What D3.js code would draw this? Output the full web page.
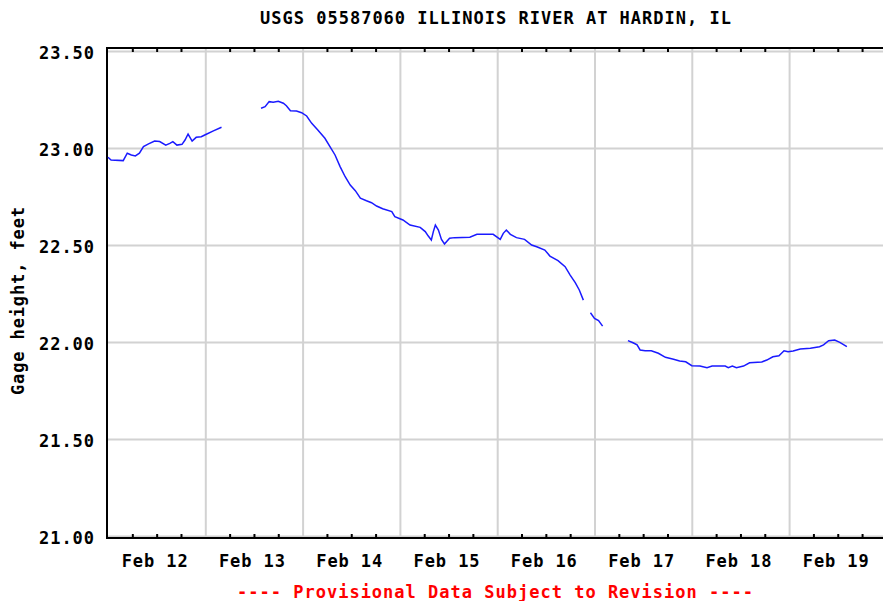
<!DOCTYPE html>
<html>
<head>
<meta charset="utf-8">
<script src="https://cdn.jsdelivr.net/npm/d3@7"></script>
<style>
  body { margin: 0; background: #fff; }
  text { font-family: "DejaVu Sans Mono", monospace; font-weight: bold; fill: #000; }
</style>
</head>
<body>
<div id="vis1"></div>
<script>
// Gage height readings (null = missing record, breaks the line)
const TIMES = [
  "02-12 00:00", "02-12 00:45", "02-12 03:45", "02-12 04:45", "02-12 05:45", "02-12 06:45",
  "02-12 07:45", "02-12 08:45", "02-12 10:00", "02-12 11:30", "02-12 12:45", "02-12 14:15",
  "02-12 15:15", "02-12 16:00", "02-12 17:00", "02-12 18:15", "02-12 19:00", "02-12 19:45",
  "02-12 20:45", "02-12 21:45", "02-12 23:00", "02-13 00:15", "02-13 02:00", "02-13 04:00",
  "02-13 08:00",
  "02-13 13:45", "02-13 14:45", "02-13 15:45", "02-13 16:45", "02-13 18:00", "02-13 19:15",
  "02-13 20:00", "02-13 21:00", "02-13 22:30", "02-13 23:45", "02-14 01:00", "02-14 02:15",
  "02-14 03:45", "02-14 05:30", "02-14 06:45", "02-14 08:00", "02-14 09:15", "02-14 10:30",
  "02-14 11:45", "02-14 13:00", "02-14 14:15", "02-14 15:45", "02-14 17:00", "02-14 18:15",
  "02-14 19:45", "02-14 22:00", "02-14 22:45", "02-15 00:45", "02-15 02:30", "02-15 05:00",
  "02-15 06:15", "02-15 07:00", "02-15 07:45", "02-15 08:15", "02-15 08:45", "02-15 09:30",
  "02-15 10:15", "02-15 11:00", "02-15 12:15", "02-15 13:30", "02-15 17:15", "02-15 19:00",
  "02-15 23:00", "02-16 00:45", "02-16 01:30", "02-16 02:15", "02-16 03:15", "02-16 04:45",
  "02-16 06:45", "02-16 08:30", "02-16 09:45", "02-16 11:45", "02-16 13:00", "02-16 15:00",
  "02-16 16:45", "02-16 18:00", "02-16 19:15", "02-16 20:15", "02-16 21:15",
  "02-16 22:00",
  "02-16 23:00", "02-17 00:00", "02-17 01:00", "02-17 02:00",
  "02-17 05:00",
  "02-17 08:15", "02-17 09:30", "02-17 10:30", "02-17 11:15", "02-17 12:30", "02-17 14:00",
  "02-17 15:45", "02-17 17:30", "02-17 19:30", "02-17 21:00", "02-17 22:30", "02-18 00:00",
  "02-18 02:00", "02-18 03:45", "02-18 05:00", "02-18 08:15", "02-18 09:00", "02-18 10:00",
  "02-18 11:00", "02-18 12:45", "02-18 14:15", "02-18 17:15", "02-18 18:30", "02-18 20:00",
  "02-18 21:30", "02-18 22:45", "02-18 23:45", "02-19 01:00", "02-19 02:45", "02-19 05:15",
  "02-19 07:30", "02-19 08:30", "02-19 09:45", "02-19 11:15", "02-19 12:30", "02-19 14:15"
];
const VALUES = [
  22.952, 22.938, 22.935, 22.973, 22.964, 22.959,
  22.973, 23.007, 23.021, 23.036, 23.033, 23.015,
  23.024, 23.033, 23.015, 23.019, 23.041, 23.072,
  23.036, 23.055, 23.058, 23.071, 23.088, 23.107,
  null,
  23.205, 23.213, 23.239, 23.236, 23.241, 23.231,
  23.218, 23.192, 23.191, 23.182, 23.165, 23.127,
  23.093, 23.050, 23.007, 22.964, 22.904, 22.852,
  22.809, 22.780, 22.741, 22.728, 22.718, 22.701,
  22.687, 22.672, 22.646, 22.629, 22.603, 22.591,
  22.569, 22.546, 22.526, 22.569, 22.603, 22.577,
  22.529, 22.505, 22.535, 22.538, 22.540, 22.555,
  22.555, 22.529, 22.560, 22.577, 22.555, 22.538,
  22.529, 22.500, 22.491, 22.474, 22.443, 22.419,
  22.388, 22.345, 22.306, 22.268, 22.216,
  null,
  22.151, 22.122, 22.110, 22.082,
  null,
  22.007, 21.996, 21.985, 21.959, 21.955, 21.955,
  21.942, 21.921, 21.911, 21.902, 21.898, 21.878,
  21.876, 21.868, 21.876, 21.876, 21.868, 21.876,
  21.868, 21.876, 21.893, 21.897, 21.907, 21.924,
  21.929, 21.955, 21.950, 21.954, 21.964, 21.968,
  21.976, 21.985, 22.007, 22.010, 21.998, 21.976
];
const Y_TICKS = [21.0, 21.5, 22.0, 22.5, 23.0, 23.5];
const X_START = "02-12 00:00";
const X_END = "02-20 00:00";
const TITLE = "USGS 05587060 ILLINOIS RIVER AT HARDIN, IL";
const Y_TITLE = "Gage height, feet";
const FOOTER = "---- Provisional Data Subject to Revision ----";

const FRAME_WIDTH = 883;
const FRAME_HEIGHT = 601;
const MARGINS = {left: 107, top: 48, bottom: 538};

const parseTime = d3.timeParse("%m-%d %H:%M");
const data = TIMES.map((t, i) => ({date: parseTime(t), value: VALUES[i]}));

const FRAME1 = d3.select("#vis1")
                 .append("svg")
                 .attr("width", FRAME_WIDTH)
                 .attr("height", FRAME_HEIGHT);

const X_SCALE = d3.scaleTime()
                  .domain([parseTime(X_START), parseTime(X_END)])
                  .range([108, 886.4]);
const Y_SCALE = d3.scaleLinear()
                  .domain([21, 23.5])
                  .range([536, 51]);

// horizontal gridlines
FRAME1.append("g")
      .attr("transform", "translate(" + MARGINS.left + ",0)")
      .call(d3.axisLeft(Y_SCALE).tickValues(Y_TICKS).tickSize(-(FRAME_WIDTH - MARGINS.left)).tickFormat(""))
      .call(g => g.select(".domain").remove())
      .call(g => g.selectAll("line").attr("stroke", "#d2d2d2").attr("stroke-width", 2));

// vertical gridlines at midnight
const dayTicks = d3.timeDay.range(d3.timeDay.offset(parseTime(X_START), 1), parseTime(X_END));
FRAME1.append("g")
      .attr("transform", "translate(0," + MARGINS.bottom + ")")
      .call(d3.axisBottom(X_SCALE).tickValues(dayTicks).tickSize(-(MARGINS.bottom - MARGINS.top)).tickFormat(""))
      .call(g => g.select(".domain").remove())
      .call(g => g.selectAll("line").attr("stroke", "#d2d2d2").attr("stroke-width", 2));

// 6-hour minor ticks, inward at top and bottom
const sixHour = d3.timeHour.every(6).range(parseTime(X_START), parseTime(X_END))
                  .filter(d => d.getHours() !== 0);
FRAME1.append("g")
      .attr("transform", "translate(0," + MARGINS.top + ")")
      .call(d3.axisTop(X_SCALE).tickValues(sixHour).tickSize(-4).tickFormat(""))
      .call(g => g.select(".domain").remove())
      .call(g => g.selectAll("line").attr("stroke", "#000").attr("stroke-width", 2));
FRAME1.append("g")
      .attr("transform", "translate(0," + MARGINS.bottom + ")")
      .call(d3.axisBottom(X_SCALE).tickValues(sixHour).tickSize(-4).tickFormat(""))
      .call(g => g.select(".domain").remove())
      .call(g => g.selectAll("line").attr("stroke", "#000").attr("stroke-width", 2));

// frame border (left, top, bottom; right side runs off the picture)
FRAME1.append("path")
      .attr("d", "M" + FRAME_WIDTH + "," + MARGINS.top + "H" + MARGINS.left +
                 "V" + MARGINS.bottom + "H" + FRAME_WIDTH)
      .attr("fill", "none")
      .attr("stroke", "#000")
      .attr("stroke-width", 2);

// the data line
const line = d3.line()
               .defined(d => d.value !== null)
               .x(d => X_SCALE(d.date))
               .y(d => Y_SCALE(d.value));
FRAME1.append("path")
      .datum(data)
      .attr("d", line)
      .attr("fill", "none")
      .attr("stroke", "#1a1aff")
      .attr("stroke-width", 1.5);

// y tick labels
FRAME1.append("g")
      .attr("transform", "translate(94,2)")
      .call(d3.axisLeft(Y_SCALE).tickValues(Y_TICKS).tickSize(0).tickPadding(0).tickFormat(d3.format(".2f")))
      .call(g => g.select(".domain").remove())
      .call(g => g.selectAll("text")
                  .attr("font-family", null).attr("font-size", "17px")
                  .attr("textLength", 55).attr("lengthAdjust", "spacing"));

// x labels at noon
const noonTicks = d3.timeDay.range(parseTime(X_START), parseTime(X_END)).map(d => d3.timeHour.offset(d, 12));
FRAME1.append("g")
      .attr("transform", "translate(-2.5," + (MARGINS.bottom + 17) + ")")
      .call(d3.axisBottom(X_SCALE).tickValues(noonTicks).tickSize(0).tickPadding(0).tickFormat(d3.timeFormat("%b %d")))
      .call(g => g.select(".domain").remove())
      .call(g => g.selectAll("text")
                  .attr("font-family", null).attr("font-size", "17px")
                  .attr("textLength", 66).attr("lengthAdjust", "spacing"));

// titles
FRAME1.append("text")
      .attr("x", 495.5).attr("y", 24)
      .attr("text-anchor", "middle")
      .attr("font-size", "17px")
      .attr("textLength", 471).attr("lengthAdjust", "spacing")
      .text(TITLE);

FRAME1.append("text")
      .attr("transform", "translate(24,301) rotate(-90)")
      .attr("text-anchor", "middle")
      .attr("font-size", "17px")
      .attr("textLength", 188).attr("lengthAdjust", "spacing")
      .text(Y_TITLE);

FRAME1.append("text")
      .attr("x", 495).attr("y", 598)
      .attr("text-anchor", "middle")
      .attr("font-size", "17px")
      .attr("textLength", 516).attr("lengthAdjust", "spacing")
      .style("fill", "#ff0000")
      .text(FOOTER);
</script>
</body>
</html>
